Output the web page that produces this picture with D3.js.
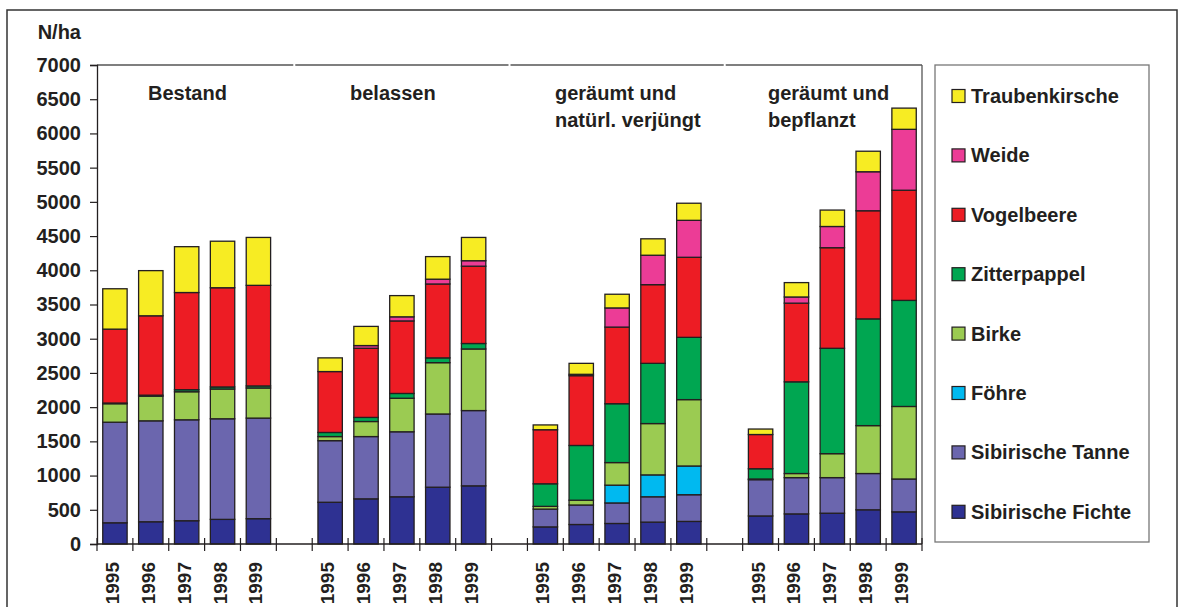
<!DOCTYPE html>
<html lang="de">
<head>
<meta charset="utf-8">
<script src="https://d3js.org/d3.v7.min.js"></script>
<style>
  body { margin: 0; background: #fff; }
  svg text { font-family: "Liberation Sans", Arial, Helvetica, sans-serif; font-weight: bold; fill: #231f20; }
</style>
</head>
<body>
<script>
// stand types (groups) and years
var groups = ["Bestand", "belassen", "geräumt und|natürl. verjüngt", "geräumt und|bepflanzt"];
var years = ["1995", "1996", "1997", "1998", "1999"];
var yTicks = [0, 500, 1000, 1500, 2000, 2500, 3000, 3500, 4000, 4500, 5000, 5500, 6000, 6500, 7000];

// N/ha per species, 4 groups x 5 years
var fichte = [310, 325, 340, 360, 370, 610, 660, 690, 830, 850, 250, 285, 300, 320, 330, 410, 440, 450, 500, 470];
var tanne  = [1470, 1475, 1475, 1470, 1470, 900, 910, 950, 1070, 1100, 260, 285, 300, 370, 390, 530, 530, 520, 530, 480];
var foehre = [0, 0, 0, 0, 0, 0, 0, 0, 0, 0, 0, 0, 260, 320, 420, 0, 0, 0, 0, 0];
var birke  = [270, 360, 410, 435, 440, 60, 220, 490, 750, 900, 40, 70, 330, 750, 970, 10, 60, 350, 700, 1060];
var zitter = [10, 15, 30, 30, 30, 60, 60, 70, 70, 80, 330, 800, 860, 880, 910, 150, 1340, 1540, 1560, 1550];
var vogel  = [1080, 1160, 1420, 1450, 1470, 890, 1010, 1060, 1080, 1130, 790, 1020, 1120, 1150, 1170, 500, 1150, 1470, 1580, 1610];
var weide  = [0, 0, 0, 0, 0, 0, 40, 60, 70, 80, 0, 20, 280, 430, 540, 0, 90, 310, 570, 890];
var traube = [590, 660, 670, 680, 700, 200, 280, 310, 330, 340, 70, 160, 200, 240, 250, 80, 210, 240, 300, 310];

var species = [
  { key: "Sibirische Fichte", values: fichte, color: "#2e3192" },
  { key: "Sibirische Tanne", values: tanne, color: "#6b66ae" },
  { key: "Föhre", values: foehre, color: "#00b9f0" },
  { key: "Birke", values: birke, color: "#9bcb52" },
  { key: "Zitterpappel", values: zitter, color: "#00a651" },
  { key: "Vogelbeere", values: vogel, color: "#ed1c24" },
  { key: "Weide", values: weide, color: "#ec3c96" },
  { key: "Traubenkirsche", values: traube, color: "#f7ec23" }
];

var W = 1184, H = 607;
var pLeft = 97, pRight = 922, pTop = 65, pBottom = 544;

var svg = d3.select("body").append("svg").attr("width", W).attr("height", H);

// outer frame
svg.append("rect").attr("x", 7).attr("y", 10).attr("width", 1170).attr("height", 620)
  .attr("fill", "none").attr("stroke", "#333").attr("stroke-width", 1.5);

// 23 slots: 5 bars + 1 empty slot between groups
var slots = d3.range(23);
var x = d3.scaleBand().domain(slots).range([pLeft, pRight]).padding(0);
var y = d3.scaleLinear().domain([0, 7000]).range([pBottom, pTop]);
var barW = x.bandwidth() * 0.68;

var rows = [];
groups.forEach(function (g, gi) {
  years.forEach(function (yr, yi) {
    var r = { slot: gi * 6 + yi, year: yr };
    species.forEach(function (s) { r[s.key] = s.values[gi * 5 + yi]; });
    rows.push(r);
  });
});

var stack = d3.stack().keys(species.map(function (s) { return s.key; }));
var layers = stack(rows);

svg.append("g").selectAll("g").data(layers).join("g")
  .attr("fill", function (d, i) { return species[i].color; })
  .selectAll("rect").data(function (d) { return d.filter(function (p) { return p[1] - p[0] > 0; }); })
  .join("rect")
  .attr("x", function (d) { return x(d.data.slot) + (x.bandwidth() - barW) / 2; })
  .attr("width", barW)
  .attr("y", function (d) { return y(d[1]); })
  .attr("height", function (d) { return y(d[0]) - y(d[1]); })
  .attr("stroke", "#231f20").attr("stroke-width", 1.3);

// frame lines (top line broken at the group gaps)
var sep = [5, 11, 17].map(function (s) { return x(s) + x.bandwidth() / 2; });
var topPts = [pLeft].concat(sep).concat([pRight]);
for (var i = 0; i < topPts.length - 1; i++) {
  svg.append("line")
    .attr("x1", topPts[i] + (i ? 1 : 0)).attr("x2", topPts[i + 1] - (i < topPts.length - 2 ? 1 : 0))
    .attr("y1", pTop).attr("y2", pTop).attr("stroke", "#555").attr("stroke-width", 1.3);
}
svg.append("line").attr("x1", pRight).attr("x2", pRight).attr("y1", pTop).attr("y2", pBottom)
  .attr("stroke", "#555").attr("stroke-width", 1.3);

// y axis
var yAxis = svg.append("g").attr("transform", "translate(" + pLeft + ",0)")
  .call(d3.axisLeft(y).tickValues(yTicks).tickSize(7).tickPadding(9).tickFormat(d3.format("d")));
yAxis.select(".domain").attr("stroke", "#231f20").attr("stroke-width", 1.3);
yAxis.selectAll(".tick line").attr("stroke", "#231f20").attr("stroke-width", 1.2);
yAxis.selectAll("text").attr("font-size", 20).attr("fill", "#231f20")
  .attr("font-family", "Liberation Sans, Arial, sans-serif").attr("font-weight", "bold");

// x axis line + slot ticks
svg.append("line").attr("x1", pLeft).attr("x2", pRight).attr("y1", pBottom).attr("y2", pBottom)
  .attr("stroke", "#231f20").attr("stroke-width", 1.3);
svg.append("g").selectAll("line").data(d3.range(24)).join("line")
  .attr("x1", function (d) { return pLeft + d * x.step(); })
  .attr("x2", function (d) { return pLeft + d * x.step(); })
  .attr("y1", pBottom - 6).attr("y2", pBottom + 7)
  .attr("stroke", "#231f20").attr("stroke-width", 1.2);

// year labels
svg.append("g").selectAll("text").data(rows).join("text")
  .attr("transform", function (d) {
    return "translate(" + (x(d.slot) + x.bandwidth() / 2 + 4) + "," + 562 + ") rotate(-90)";
  })
  .attr("text-anchor", "end").attr("font-size", 19)
  .text(function (d) { return d.year; });

// unit label
svg.append("text").attr("x", 81).attr("y", 39).attr("text-anchor", "end").attr("font-size", 20).text("N/ha");

// group labels
var labelX = [148, 350, 555, 768];
groups.forEach(function (g, gi) {
  g.split("|").forEach(function (line, li) {
    svg.append("text").attr("x", labelX[gi]).attr("y", 100 + li * 27).attr("font-size", 20).text(line);
  });
});

// legend
svg.append("rect").attr("x", 935).attr("y", 65).attr("width", 214).attr("height", 477)
  .attr("fill", "#fff").attr("stroke", "#777").attr("stroke-width", 1.3);
var legendItems = species.slice().reverse();
var lg = svg.append("g").selectAll("g").data(legendItems).join("g")
  .attr("transform", function (d, i) { return "translate(952," + (96 + i * 59.4) + ")"; });
lg.append("rect").attr("x", 0).attr("y", -6.5).attr("width", 13).attr("height", 13)
  .attr("fill", function (d) { return d.color; }).attr("stroke", "#231f20").attr("stroke-width", 1.2);
lg.append("text").attr("x", 19).attr("y", 7).attr("font-size", 20).text(function (d) { return d.key; });
</script>
</body>
</html>
